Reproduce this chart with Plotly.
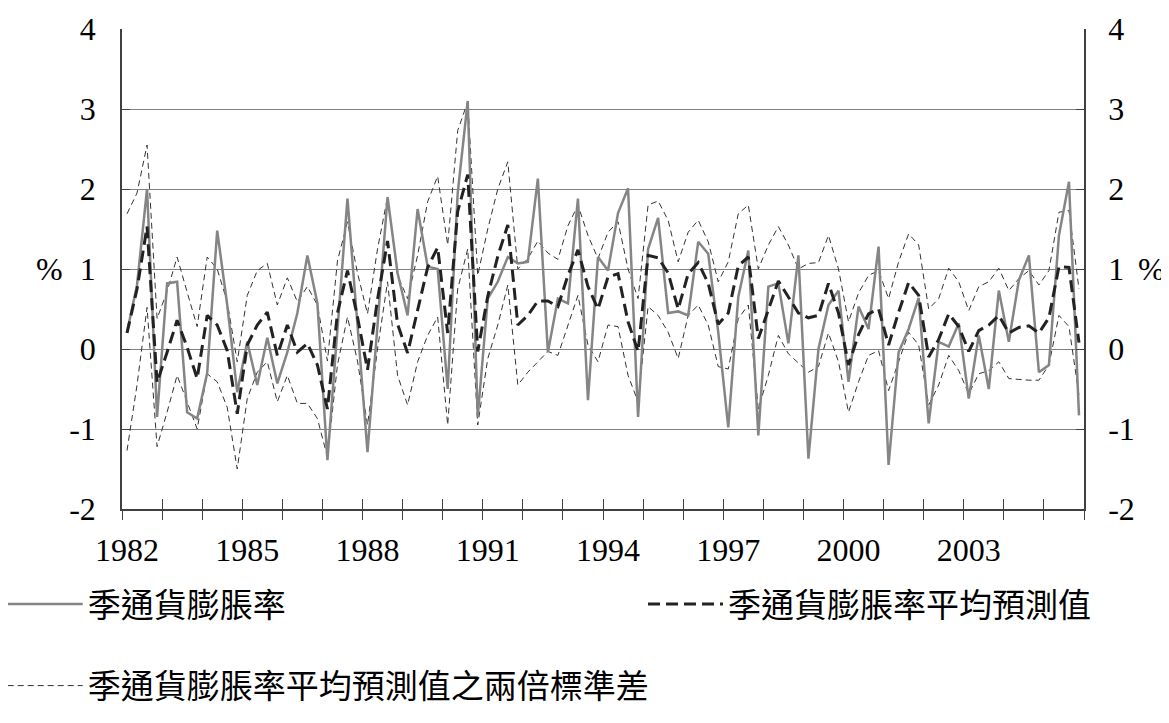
import plotly.graph_objects as go

# ---------------- data (quarterly, 1982Q1 - 2005Q4) ----------------
years = list(range(1982, 2006))
quarters = [f"{y}Q{q}" for y in years for q in range(1, 5)]
label_years = [1982, 1985, 1988, 1991, 1994, 1997, 2000, 2003]
y_ticks = [-2, -1, 0, 1, 2, 3, 4]
y_tick_text = ["-2", "-1", "0", "1", "2", "3", "4"]

actual = [
    0.21, 0.8, 2.0, -0.85, 0.82, 0.84, -0.79, -0.87, -0.3, 1.48,
    0.55, -0.54, 0.09, -0.45, 0.14, -0.43, -0.04, 0.45, 1.17, 0.57,
    -1.39, 0.2, 1.88, 0.3, -1.29, 0.3, 1.9, 0.95, 0.42, 1.75,
    1.03, 1.0, -0.5, 1.95, 3.1, -0.85, 0.63, 0.84, 1.15, 1.07,
    1.09, 2.13, -0.04, 0.63, 0.57, 1.88, -0.64, 1.15, 0.98, 1.7,
    2.01, -0.85, 1.25, 1.64, 0.45, 0.47, 0.42, 1.34, 1.19, 0.21,
    -0.98, 0.65, 1.23, -1.08, 0.78, 0.82, 0.07, 1.17, -1.37, 0.0,
    0.55, 0.73, -0.41, 0.53, 0.25, 1.28, -1.45, -0.04, 0.25, 0.64,
    -0.93, 0.09, 0.03, 0.32, -0.62, 0.17, -0.5, 0.73, 0.09, 0.86,
    1.17, -0.29, -0.2, 1.42, 2.09, -0.83,
]

mean_fc = [
    0.2, 0.75, 1.53, -0.42, -0.04, 0.36, 0.02, -0.37, 0.42, 0.3,
    -0.02, -0.81, 0.05, 0.3, 0.46, -0.08, 0.3, -0.04, 0.07, -0.2,
    -0.75, 0.45, 0.98, 0.4, -0.26, 0.62, 1.35, 0.31, -0.05, 0.5,
    1.02, 1.27, 0.2, 1.72, 2.18, -0.03, 0.66, 1.16, 1.55, 0.3,
    0.42, 0.6, 0.6, 0.53, 0.92, 1.24, 0.78, 0.5, 0.9, 0.94,
    0.34, -0.03, 1.17, 1.14, 0.95, 0.5, 0.94, 1.08, 0.82, 0.31,
    0.45, 1.04, 1.15, 0.13, 0.5, 0.85, 0.65, 0.45, 0.39, 0.42,
    0.82, 0.45, -0.2, 0.18, 0.44, 0.5, 0.05, 0.46, 0.83, 0.67,
    -0.1, 0.12, 0.44, 0.28, -0.03, 0.23, 0.3, 0.42, 0.2, 0.27,
    0.29, 0.2, 0.39, 1.03, 1.02, 0.08,
]

upper_band = [
    1.69, 1.95, 2.55, 0.38, 0.72, 1.15, 0.71, 0.28, 1.15, 1.0,
    0.59, -0.16, 0.67, 0.98, 1.07, 0.55, 0.89, 0.59, 0.78, 0.55,
    -0.15, 1.1, 1.59, 0.95, 0.44, 1.25, 1.9, 0.92, 0.63, 1.17,
    1.84, 2.16, 1.3, 2.73, 3.09, 0.92, 1.5, 2.0, 2.34, 1.0,
    1.13, 1.35, 1.2, 1.12, 1.54, 1.8, 1.42, 1.13, 1.46, 1.59,
    1.0, 0.63, 1.8, 1.85, 1.61, 1.09, 1.46, 1.61, 1.34, 0.84,
    1.09, 1.69, 1.8, 1.0, 1.3, 1.53, 1.3, 1.0, 1.07, 1.08,
    1.42, 1.0, 0.34, 0.7, 0.92, 0.98, 0.63, 1.09, 1.44, 1.3,
    0.5, 0.63, 1.01, 0.84, 0.48, 0.78, 0.84, 1.01, 0.73, 0.88,
    0.98, 0.8, 0.98, 1.71, 1.73, 0.75,
]

lower_band = [
    -1.27, -0.45, 0.52, -1.22, -0.79, -0.33, -0.66, -1.0, -0.31, -0.41,
    -0.73, -1.5, -0.62, -0.29, -0.16, -0.66, -0.33, -0.68, -0.68, -0.87,
    -1.35, -0.2, 0.4, -0.15, -0.95, 0.0, 0.84, -0.33, -0.7, -0.16,
    0.17, 0.4, -0.95, 0.75, 1.25, -0.95, -0.12, 0.3, 0.8, -0.45,
    -0.29, -0.16, -0.03, -0.08, 0.3, 0.67, 0.05, -0.16, 0.3, 0.28,
    -0.33, -0.66, 0.53, 0.42, 0.21, -0.12, 0.42, 0.55, 0.3, -0.22,
    -0.25, 0.38, 0.55, -0.75, -0.33, 0.17, -0.06, -0.18, -0.29, -0.22,
    0.2, -0.16, -0.79, -0.41, -0.08, -0.02, -0.52, -0.16, 0.21, 0.05,
    -0.7, -0.45, -0.08, -0.27, -0.56, -0.31, -0.27, -0.16, -0.37, -0.38,
    -0.39, -0.39, -0.2, 0.42, 0.28, -0.58,
]

names = ["季通貨膨脹率", "季通貨膨脹率平均預測值", "季通貨膨脹率平均預測值之兩倍標準差"]

# ---------------- figure ----------------
xi = list(range(len(quarters)))
label_pos = [quarters.index(f"{y}Q1") for y in label_years]
boundary_pos = [quarters.index(f"{y}Q1") - 0.5 for y in years] + [len(quarters) - 0.5]

SERIF = "Liberation Serif"
NUM_FONT = dict(family=SERIF, size=32, color="black")
CJK_FONT = dict(family="Noto Sans CJK TC", size=33, color="black")
AX = "#404040"

fig = go.Figure()

fig.add_trace(go.Scatter(x=xi, y=upper_band, mode="lines", name=names[2],
                         legend="legend2", legendgroup="band",
                         line=dict(color="#333333", width=1, dash="6px,4px")))
fig.add_trace(go.Scatter(x=xi, y=lower_band, mode="lines", name=names[2],
                         legend="legend2", legendgroup="band", showlegend=False,
                         line=dict(color="#333333", width=1, dash="6px,4px")))
fig.add_trace(go.Scatter(x=xi, y=actual, mode="lines", name=names[0],
                         legend="legend", line=dict(color="#858585", width=2.5)))
fig.add_trace(go.Scatter(x=xi, y=mean_fc, mode="lines", name=names[1],
                         legend="legend3", line=dict(color="#222222", width=3, dash="12px,6px")))

# helper traces so the overlay axes are drawn
fig.add_trace(go.Scatter(x=[xi[0]], y=[actual[0]], xaxis="x", yaxis="y2", mode="markers",
                         marker=dict(opacity=0), showlegend=False, hoverinfo="skip"))
fig.add_trace(go.Scatter(x=[xi[0]], y=[actual[0]], xaxis="x2", yaxis="y", mode="markers",
                         marker=dict(opacity=0), showlegend=False, hoverinfo="skip"))
fig.add_trace(go.Scatter(x=[xi[0]], y=[actual[0]], xaxis="x3", yaxis="y", mode="markers",
                         marker=dict(opacity=0), showlegend=False, hoverinfo="skip"))

xr = [-0.5, len(quarters) - 0.5]
yr = [-2, 4]
LEG = dict(orientation="h", xanchor="left", yanchor="middle", font=CJK_FONT,
           itemwidth=75, bgcolor="rgba(0,0,0,0)", borderwidth=0)

fig.update_layout(
    width=1169, height=723,
    margin=dict(l=114, r=93, t=21, b=222, autoexpand=False),
    paper_bgcolor="white", plot_bgcolor="white",
    font=dict(family=SERIF),
    showlegend=True,
    xaxis=dict(range=xr, tickvals=label_pos, ticktext=[str(y) for y in label_years],
               ticks="", showgrid=False, zeroline=False, showline=True, automargin=False,
               linecolor=AX, linewidth=1.5, tickfont=NUM_FONT, ticklabelstandoff=12),
    xaxis2=dict(range=xr, overlaying="x", anchor="y", tickvals=boundary_pos, ticks="outside",
                ticklen=10, tickcolor=AX, tickwidth=1, showticklabels=False, automargin=False,
                showgrid=False, zeroline=False, showline=False),
    xaxis3=dict(range=xr, overlaying="x", anchor="y", tickvals=boundary_pos, ticks="inside",
                ticklen=10, tickcolor=AX, tickwidth=1, showticklabels=False, automargin=False,
                showgrid=False, zeroline=False, showline=False),
    yaxis=dict(range=yr, tickvals=y_ticks, ticktext=y_tick_text, showgrid=True,
               gridcolor="#808080", gridwidth=1, zeroline=False, showline=True,
               linecolor=AX, linewidth=1.5, automargin=False,
               ticks="inside", ticklen=8, tickcolor=AX, tickfont=NUM_FONT,
               ticklabelstandoff=18),
    yaxis2=dict(range=yr, tickvals=y_ticks, ticktext=y_tick_text, overlaying="y", side="right",
                showgrid=False, zeroline=False, showline=True, linecolor=AX, linewidth=1.5,
                automargin=False, ticks="inside", ticklen=8, tickcolor=AX, tickfont=NUM_FONT,
                ticklabelstandoff=16),
    legend=dict(LEG, x=-0.124, y=-0.198),
    legend3=dict(LEG, x=0.5416, y=-0.198),
    legend2=dict(LEG, x=-0.124, y=-0.368),
    annotations=[
        dict(text="%", xref="paper", yref="y", x=-0.075, y=1, showarrow=False,
             xanchor="center", yanchor="middle", font=NUM_FONT),
        dict(text="%", xref="paper", yref="y", x=1.07, y=1, showarrow=False,
             xanchor="center", yanchor="middle", font=NUM_FONT),
    ],
)

fig.write_html("out.html")
